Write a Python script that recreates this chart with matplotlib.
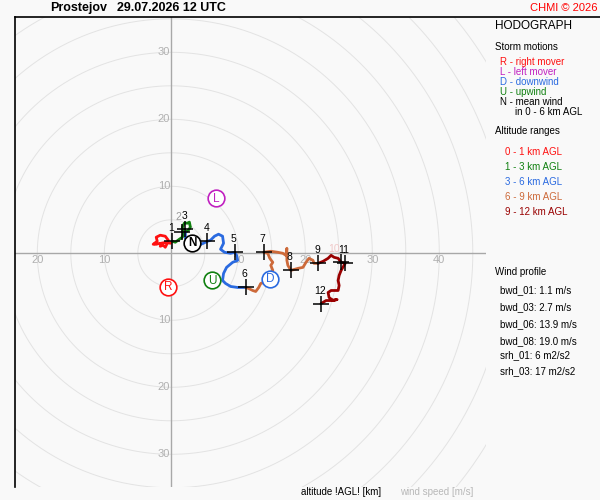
import numpy as np
import matplotlib
matplotlib.use("Agg")
import matplotlib.pyplot as plt
from matplotlib.lines import Line2D

plt.rcParams['font.family'] = ['Liberation Sans', 'DejaVu Sans']

# ---------------- data (m/s) ----------------
u_0_1 = [-1.65, -2.25, -2.7, -2.1, -2.25, -1.65, -0.9, -0.45, -0.6, -0.9, -1.2, -1.65, -1.5, -0.75, -0.15, 0.15]
v_0_1 = [1.5, 1.35, 1.35, 1.8, 2.4, 2.7, 2.55, 1.95, 1.5, 0.9, 1.2, 1.05, 1.5, 1.65, 1.5, 1.8]

u_1_3 = [0.15, 0.6, 1.2, 1.65, 1.8, 1.65, 1.95, 2.4, 2.7, 2.85, 2.55, 2.1]
v_1_3 = [1.8, 1.65, 2.1, 2.4, 3.0, 3.9, 4.5, 4.5, 4.65, 3.9, 3.45, 3.15]

u_3_6 = [2.1, 2.1, 2.85, 4.05, 4.8, 5.4, 5.85, 6.45, 7.05, 7.65, 7.8, 7.35, 7.95, 8.85, 9.45,
         9.75, 9.9, 9.15, 8.25, 7.8, 7.65, 8.1, 8.85, 9.9, 11.1]
v_3_6 = [3.15, 2.25, 1.35, 1.2, 1.5, 1.8, 1.95, 2.55, 2.85, 2.55, 1.5, 0.6, 0.15, 0.0, 0.15,
         -0.3, -1.05, -1.35, -2.1, -3.0, -4.05, -4.5, -4.95, -5.1, -5.1]

u_6_9 = [11.1, 11.55, 12.15, 12.6, 13.05, 13.35, 13.8, 14.25, 14.55, 15.15, 14.85, 15.15, 14.7, 14.4,
         13.8, 14.85, 15.9, 16.65, 17.1, 17.25, 17.25, 17.4, 17.85, 18.9, 19.65, 20.1, 20.55, 21.15, 21.3, 21.9]
v_6_9 = [-5.1, -5.25, -5.55, -5.7, -5.1, -4.5, -4.35, -3.6, -3.3, -2.55, -1.8, -1.35, -0.75, 0.0,
         0.15, 0.3, 0.15, 0.0, -0.3, 0.75, -1.05, -1.8, -2.55, -2.25, -2.1, -1.35, -0.75, -1.05, -1.5, -1.5]

u_9_12 = [21.9, 22.65, 23.4, 23.85, 24.3, 24.9, 25.35, 25.95, 25.35, 25.05, 24.9, 25.05, 24.9, 23.85,
          23.4, 23.55, 24.15, 24.75, 23.85, 23.1, 22.35]
v_9_12 = [-1.5, -1.2, -0.75, -0.3, -0.6, -0.75, -1.35, -1.5, -2.55, -3.3, -4.05, -4.8, -5.55, -5.55,
          -5.85, -6.6, -7.05, -6.9, -7.05, -7.05, -7.5]

heights = [1, 2, 3, 4, 5, 6, 7, 8, 9, 10, 11, 12]
height_u = [0.15, 1.65, 2.1, 5.4, 9.45, 11.1, 13.8, 17.85, 21.9, 25.35, 25.95, 22.35]
height_v = [1.8, 3.15, 3.6, 1.8, 0.15, -5.1, 0.15, -2.55, -1.5, -1.35, -1.5, -7.5]

storm_labels = ['R', 'L', 'D', 'U', 'N']
storm_u = [-0.5, 6.7, 14.8, 6.1, 3.1]
storm_v = [-5.0, 8.2, -3.8, -4.0, 1.6]

bwd_names = ['bwd_01', 'bwd_03', 'bwd_06', 'bwd_08']
bwd_values = [1.1, 2.7, 13.9, 19.0]
srh_names = ['srh_01', 'srh_03']
srh_values = [6, 17]

# ---------------- styling ----------------
BG = '#f9f9f9'
C_RED = '#ff1010'
C_GREEN = '#108010'
C_BLUE = '#2a6ae0'
C_ORANGE = '#cd6a3a'
C_DRED = '#990000'
C_PURPLE = '#c020c0'
storm_colors = [C_RED, C_PURPLE, C_BLUE, C_GREEN, 'black']

W, H = 600, 500
fig = plt.figure(figsize=(6, 5), dpi=100, facecolor=BG)

PX = 6.7
ox, oy = 171.3, 253.3
left_px, right_px, top_px, bot_px = 15, 486, 17, 487
ax = fig.add_axes([left_px / W, 1 - bot_px / H, (right_px - left_px) / W, (bot_px - top_px) / H])
ax.set_facecolor(BG)
ax.set_xlim((left_px - ox) / PX, (right_px - ox) / PX)
ax.set_ylim((oy - bot_px) / PX, (oy - top_px) / PX)
ax.set_xticks([]); ax.set_yticks([])
for s in ['right', 'bottom', 'top']:
    ax.spines[s].set_visible(False)
ax.spines['left'].set_color('black')
ax.spines['left'].set_linewidth(1.2)

# rings
th = np.linspace(0, 2 * np.pi, 720)
for r in range(5, 80, 5):
    ax.plot(r * np.cos(th), r * np.sin(th), color='#e3e3e3', lw=0.7, zorder=1)
ax.axhline(0, color='#a8a8a8', lw=1.0, zorder=2)
ax.axvline(0, color='#a8a8a8', lw=1.0, zorder=2)

lab_kw = dict(color='#b0b0b0', fontsize=8, zorder=3)
for r in [10, 20, 30, 40]:
    ax.text(r, -0.3, str(r), ha='center', va='top', **lab_kw)
for r in [10, 20]:
    ax.text(-r, -0.3, str(r), ha='center', va='top', **lab_kw)
for r in [10, 20, 30]:
    ax.text(-0.15, r, str(r), ha='right', va='center', **lab_kw)
    ax.text(-0.15, -r, str(r), ha='right', va='center', **lab_kw)

# hodograph segments
for uu, vv, c in [(u_0_1, v_0_1, C_RED), (u_1_3, v_1_3, C_GREEN), (u_3_6, v_3_6, C_BLUE),
                  (u_6_9, v_6_9, C_ORANGE), (u_9_12, v_9_12, C_DRED)]:
    ax.plot(uu, vv, color=c, lw=2.0, solid_joinstyle='round', solid_capstyle='round', zorder=4)

# height markers
ax.plot(height_u, height_v, ls='none', marker='+', ms=11, mew=1.1, color='black', zorder=6)
for h, uu, vv in zip(heights, height_u, height_v):
    col = '#f0c8c8' if h == 10 else ('#9a9a9a' if h == 2 else 'black')
    dx = -7 if h == 10 else (-4 if h == 2 else -1)
    dy = 10 if h == 2 else 8
    ax.annotate(str(h), (uu, vv), xytext=(dx, dy), textcoords='offset pixels',
                ha='center', va='bottom', fontsize=7.5, color=col, zorder=7)

# storm motions
for lab, uu, vv, c in zip(storm_labels, storm_u, storm_v, storm_colors):
    ax.plot(uu, vv, marker='o', ms=12, mfc='white', mec=c, mew=1.2, zorder=8)
    ax.text(uu, vv - 0.1, lab, ha='center', va='center', color=c, fontsize=8.5,
            fontweight='bold' if lab == 'N' else 'normal', zorder=9)

# frame top line (extends full width)
fig.add_artist(Line2D([left_px / W, 1.0], [1 - top_px / H] * 2, color='black', lw=1.2))


def ftext(x, y, s, **kw):
    fig.text(x / W, 1 - y / H, s, va='center', **kw)


ftext(50, 8, 'Prostejov', fontsize=9, fontweight='bold')
ftext(117, 8, '29.07.2026 12 UTC', fontsize=9, fontweight='bold')
ftext(597, 8, 'CHMI © 2026', fontsize=8, color='#ff0000', ha='right')

ftext(495, 26, 'HODOGRAPH', fontsize=8.5)
ftext(495, 47, 'Storm motions', fontsize=7)
legend_lines = [('R - right mover', C_RED), ('L - left mover', C_PURPLE), ('D - downwind', C_BLUE),
                ('U - upwind', C_GREEN), ('N - mean wind', 'black')]
for i, (s, c) in enumerate(legend_lines):
    ftext(500, 62 + i * 10, s, fontsize=7, color=c)
ftext(515, 112, 'in 0 - 6 km AGL', fontsize=7)
ftext(495, 131, 'Altitude ranges', fontsize=7)
ranges = [('0 - 1 km AGL', C_RED), ('1 - 3 km AGL', C_GREEN), ('3 - 6 km AGL', C_BLUE),
          ('6 - 9 km AGL', C_ORANGE), ('9 - 12 km AGL', C_DRED)]
for i, (s, c) in enumerate(ranges):
    ftext(505, 152 + i * 15, s, fontsize=7, color=c)

ftext(495, 272, 'Wind profile', fontsize=7)
for i, (n, v) in enumerate(zip(bwd_names, bwd_values)):
    ftext(500, 290 + i * 17, f'{n}: {v:.1f} m/s', fontsize=7)
for i, (n, v) in enumerate(zip(srh_names, srh_values)):
    ftext(500, 355 + i * 16, f'{n}: {v} m2/s2', fontsize=7)

ftext(301, 492, 'altitude !AGL! [km]', fontsize=7)
ftext(400, 492, 'wind speed [m/s]', fontsize=7, color='#b8b8b8')

fig.savefig('out.png', dpi=100, facecolor=BG)
